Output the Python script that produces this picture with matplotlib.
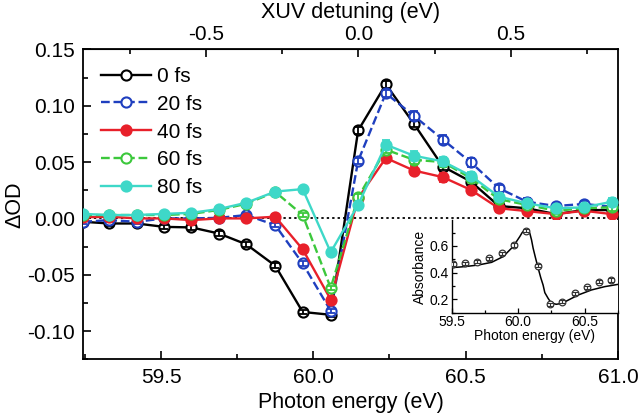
import matplotlib
matplotlib.use("Agg")
import matplotlib.pyplot as plt
from matplotlib.ticker import MultipleLocator, FixedLocator

plt.rcParams['font.family'] = ['Liberation Sans', 'DejaVu Sans']

# ---------------- data ----------------
energy = [59.245, 59.33, 59.42, 59.51, 59.60, 59.69, 59.78, 59.875, 59.965, 60.057,
          60.147, 60.238, 60.33, 60.425, 60.517, 60.609, 60.701, 60.796, 60.888, 60.98]

od_0fs = [-0.003, -0.0045, -0.0045, -0.0075, -0.008, -0.0134, -0.023, -0.042, -0.083, -0.0855,
          0.078, 0.119, 0.084, 0.046, 0.0327, 0.011, 0.009, 0.0038, 0.0074, 0.0074]
od_20fs = [-0.003, -0.0015, -0.003, 0.0, 0.0, 0.0005, 0.003, -0.006, -0.040, -0.082,
           0.051, 0.111, 0.091, 0.070, 0.0497, 0.0268, 0.0148, 0.011, 0.0128, 0.0104]
od_40fs = [0.001, 0.0015, 0.0, 0.0, -0.0015, 0.0, 0.0, 0.0015, -0.0274, -0.072,
           0.018, 0.0536, 0.0425, 0.0366, 0.0253, 0.009, 0.0065, 0.0038, 0.0068, 0.0038]
od_60fs = [0.003, 0.003, 0.003, 0.003, 0.004, 0.0075, 0.013, 0.0235, 0.003, -0.0616,
           0.0188, 0.061, 0.052, 0.050, 0.0357, 0.017, 0.012, 0.0068, 0.009, 0.0098]
od_80fs = [0.004, 0.003, 0.003, 0.004, 0.005, 0.0083, 0.0139, 0.0238, 0.026, -0.030,
           0.012, 0.0654, 0.0556, 0.0506, 0.0378, 0.0193, 0.0134, 0.009, 0.0098, 0.0148]

err_0fs = [0.002] * 10 + [0.003, 0.003, 0.003, 0.003, 0.003, 0.003, 0.003, 0.003, 0.003, 0.003]
err_20fs = [0.002] * 10 + [0.003, 0.003, 0.004, 0.004, 0.004, 0.003, 0.003, 0.003, 0.003, 0.003]
err_40fs = [0.002] * 10 + [0.003, 0.003, 0.004, 0.004, 0.003, 0.003, 0.003, 0.003, 0.003, 0.003]
err_60fs = [0.002] * 10 + [0.003, 0.003, 0.004, 0.004, 0.003, 0.003, 0.003, 0.003, 0.003, 0.003]
err_80fs = [0.002] * 10 + [0.003, 0.004, 0.004, 0.004, 0.003, 0.003, 0.003, 0.003, 0.003, 0.003]

labels = ['0 fs', '20 fs', '40 fs', '60 fs', '80 fs']

# inset: absorbance
inset_energy = [59.51, 59.60, 59.69, 59.78, 59.875, 59.965, 60.057, 60.147, 60.238, 60.33,
                60.425, 60.517, 60.609, 60.701]
inset_abs = [0.465, 0.47, 0.482, 0.507, 0.545, 0.607, 0.715, 0.452, 0.162, 0.182,
             0.245, 0.29, 0.332, 0.345]
inset_err = [0.012] * 14

fit_energy = [59.50, 59.60, 59.70, 59.80, 59.887, 59.962, 60.012, 60.03, 60.05, 60.07,
              60.087, 60.10, 60.112, 60.13, 60.15, 60.17, 60.187, 60.20, 60.225, 60.24,
              60.262, 60.285, 60.312, 60.362, 60.45, 60.55, 60.65, 60.75]
fit_abs = [0.437, 0.445, 0.457, 0.477, 0.52, 0.595, 0.67, 0.70, 0.72, 0.715,
           0.695, 0.645, 0.583, 0.51, 0.433, 0.36, 0.307, 0.25, 0.207, 0.185,
           0.17, 0.163, 0.167, 0.187, 0.232, 0.27, 0.295, 0.312]

resonance = 60.148

# ---------------- styles ----------------
colors = ['#000000', '#1f3fbf', '#e8202a', '#3cc83c', '#3ed8c8']
styles = ['-', '--', '-', '--', '-']
filled = [False, False, True, False, True]
series = [od_0fs, od_20fs, od_40fs, od_60fs, od_80fs]
errs = [err_0fs, err_20fs, err_40fs, err_60fs, err_80fs]

fig = plt.figure(figsize=(6.4, 4.18), dpi=100)
ax = fig.add_axes([0.1302, 0.1404, 0.8354, 0.7416])

ax.axhline(0, color='black', linestyle=(0, (1.3, 1.7)), linewidth=1.3, zorder=1)

for i, (y, e) in enumerate(zip(series, errs)):
    c = colors[i]
    ax.plot(energy, y, linestyle=styles[i], color=c, linewidth=1.7,
            marker='o', markersize=7.3,
            markerfacecolor=(c if filled[i] else 'white'),
            markeredgecolor=c, markeredgewidth=1.5,
            label=labels[i], zorder=2 + i)
    ax.errorbar(energy, y, yerr=e, fmt='none', ecolor=c, elinewidth=1.3,
                capsize=3, capthick=1.3, zorder=2.5 + i)

ax.set_xlim(59.245, 61.0)
ax.set_ylim(-0.125, 0.15)
ax.xaxis.set_major_locator(MultipleLocator(0.5))
ax.xaxis.set_minor_locator(MultipleLocator(0.25))
ax.yaxis.set_major_locator(MultipleLocator(0.05))
ax.yaxis.set_minor_locator(MultipleLocator(0.025))
ax.xaxis.set_major_formatter(matplotlib.ticker.FormatStrFormatter('%.1f'))
ax.yaxis.set_major_formatter(matplotlib.ticker.FormatStrFormatter('%.2f'))
ax.tick_params(which='both', direction='in', top=False, right=False, labelsize=15, width=1.2)
ax.tick_params(which='major', length=6, pad=6)
ax.tick_params(which='minor', length=3.5)
for s in ax.spines.values():
    s.set_linewidth(1.3)

ax.set_xlabel('Photon energy (eV)', fontsize=15.5, labelpad=4)
ax.set_ylabel('ΔOD', fontsize=15.5)
ax.yaxis.set_label_coords(-0.108, 0.5)

top = ax.secondary_xaxis('top', functions=(lambda x: x - resonance, lambda d: d + resonance))
top.xaxis.set_major_locator(FixedLocator([-0.5, 0.0, 0.5]))
top.xaxis.set_minor_locator(FixedLocator([-0.75, -0.25, 0.25, 0.75]))
top.xaxis.set_major_formatter(matplotlib.ticker.FormatStrFormatter('%.1f'))
top.tick_params(which='both', direction='in', labelsize=15, width=1.2)
top.tick_params(which='major', length=6, pad=4)
top.tick_params(which='minor', length=3.5)
top.set_xlabel('XUV detuning (eV)', fontsize=15.5, labelpad=5)

leg = ax.legend(loc='upper left', bbox_to_anchor=(0.0, 1.0), frameon=False, fontsize=15,
                handlelength=2.4, handletextpad=0.3, labelspacing=0.42, borderaxespad=0.45)

# ---------------- inset ----------------
ins = fig.add_axes([0.7058, 0.2519, 0.2598, 0.2206])
ins.plot(fit_energy, fit_abs, color='black', linewidth=1.1, zorder=2)
ins.plot(inset_energy, inset_abs, linestyle='none', marker='o', markersize=4.8,
         markerfacecolor='white', markeredgecolor='#333333', markeredgewidth=0.9, zorder=3)
ins.errorbar(inset_energy, inset_abs, yerr=inset_err, fmt='none', ecolor='#333333',
             elinewidth=0.8, capsize=2, capthick=0.8, zorder=4)
ins.set_xlim(59.5, 60.75)
ins.set_ylim(0.1, 0.79)
ins.xaxis.set_major_locator(MultipleLocator(0.5))
ins.xaxis.set_minor_locator(MultipleLocator(0.25))
ins.yaxis.set_major_locator(MultipleLocator(0.2))
ins.yaxis.set_minor_locator(MultipleLocator(0.1))
ins.xaxis.set_major_formatter(matplotlib.ticker.FormatStrFormatter('%.1f'))
ins.yaxis.set_major_formatter(matplotlib.ticker.FormatStrFormatter('%.1f'))
ins.tick_params(which='both', direction='in', labelsize=10, width=0.9, pad=2)
ins.tick_params(which='major', length=3.5)
ins.tick_params(which='minor', length=2)
ins.spines['top'].set_visible(False)
ins.spines['right'].set_visible(False)
for s in ('left', 'bottom'):
    ins.spines[s].set_linewidth(1.0)
ins.set_xlabel('Photon energy (eV)', fontsize=10, labelpad=0)
ins.set_ylabel('Absorbance', fontsize=10, labelpad=2)

fig.savefig('out.png', dpi=100)
